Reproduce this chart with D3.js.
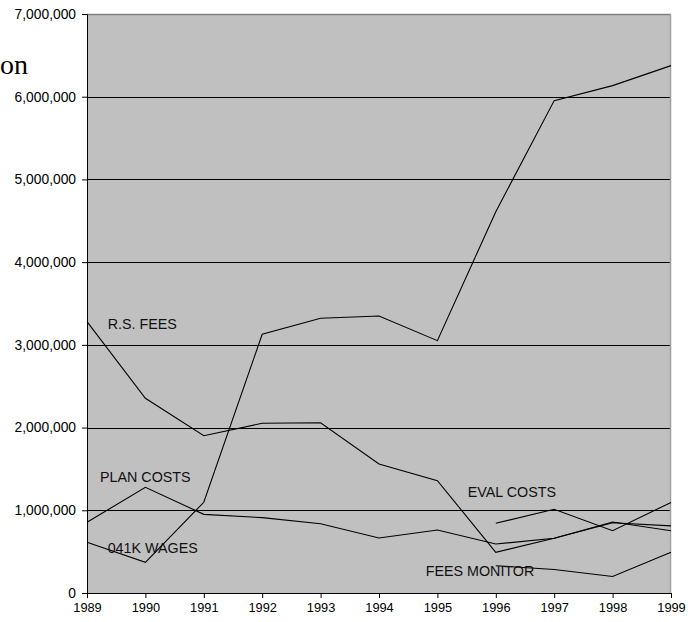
<!DOCTYPE html>
<html>
<head>
<meta charset="utf-8">
<script src="https://cdn.jsdelivr.net/npm/d3@7"></script>
<style>
  html, body { margin: 0; padding: 0; background: #ffffff; }
  svg { display: block; }
</style>
</head>
<body>
<svg id="chart" width="695" height="622"></svg>
<script>
// Years on the horizontal axis
const years = [1989, 1990, 1991, 1992, 1993, 1994, 1995, 1996, 1997, 1998, 1999];

// Annual amounts (dollars) for each cost line; null = no value that year
const totalSeries   = [613000, 371000, 1097000, 3128000, 3321000, 3349000, 3051000, 4610000, 5953000, 6134000, 6376000];
const rsFees        = [3280000, 2354000, 1902000, 2052000, 2059000, 1560000, 1358000, 492000, 661000, 850000, 812000];
const planCosts     = [855000, 1278000, 951000, 911000, 838000, 665000, 762000, 592000, 661000, 858000, 753000];
const evalCosts     = [null, null, null, null, null, null, null, 843000, 1012000, 753000, 1095000];
const feesMonitor   = [null, null, null, null, null, null, null, 330000, 284000, 200000, 492000];

// Value axis ticks
const yTicks = [0, 1000000, 2000000, 3000000, 4000000, 5000000, 6000000, 7000000];

// Text labels placed in the plot
const seriesLabels = ["R.S. FEES", "PLAN COSTS", "041K WAGES", "EVAL COSTS", "FEES MONITOR"];

const svg = d3.select("#chart");
const margin = { left: 87, top: 14, right: 24, bottom: 29 };
const W = 695, H = 622;
const pw = W - margin.left - margin.right;
const ph = H - margin.top - margin.bottom;

const x = d3.scaleLinear().domain([years[0], years[years.length - 1]]).range([0, pw]);
const y = d3.scaleLinear().domain([0, 7000000]).range([ph, 0]);

const g = svg.append("g").attr("transform", `translate(${margin.left},${margin.top})`);

// Plot background
g.append("rect").attr("x", 0).attr("y", 0).attr("width", pw).attr("height", ph)
  .attr("fill", "#c0c0c0");

// Horizontal gridlines
g.append("g").selectAll("line").data(yTicks.filter(v => v > 0 && v < 7000000)).join("line")
  .attr("x1", 0).attr("x2", pw)
  .attr("y1", d => Math.round(y(d)) + 0.5).attr("y2", d => Math.round(y(d)) + 0.5)
  .attr("stroke", "#000").attr("stroke-width", 1);

// Plot frame (top and right)
g.append("line").attr("x1", 0).attr("x2", pw).attr("y1", 0.5).attr("y2", 0.5)
  .attr("stroke", "#808080").attr("stroke-width", 1.5);
g.append("line").attr("x1", pw - 0.5).attr("x2", pw - 0.5).attr("y1", 0).attr("y2", ph)
  .attr("stroke", "#a0a0a0").attr("stroke-width", 1.5);

// Series lines
const line = d3.line()
  .defined(d => d[1] !== null)
  .x(d => x(d[0]))
  .y(d => y(d[1]));

const allSeries = [totalSeries, rsFees, planCosts, evalCosts, feesMonitor];
g.append("g").selectAll("path").data(allSeries).join("path")
  .attr("d", s => line(years.map((yr, i) => [yr, s[i]])))
  .attr("fill", "none")
  .attr("stroke", "#000")
  .attr("stroke-width", 1.1);

// Axes
const yAxis = d3.axisLeft(y).tickValues(yTicks).tickFormat(d3.format(",")).tickSize(5).tickPadding(6);
const xAxis = d3.axisBottom(x).tickValues(years).tickFormat(d3.format("d")).tickSize(5).tickPadding(5);

const ya = g.append("g").call(yAxis);
const xa = g.append("g").attr("transform", `translate(0,${ph})`).call(xAxis);

[ya, xa].forEach(a => {
  a.select(".domain").attr("stroke", "#000").attr("stroke-width", 1);
  a.selectAll(".tick line").attr("stroke", "#000");
  a.selectAll("text").attr("fill", "#000")
    .style("font-family", "'Liberation Sans', Arial, sans-serif");
});
ya.selectAll("text").style("font-size", "13.8px");
xa.selectAll("text").style("font-size", "12.8px");

// In-plot series labels
const labelPos = [
  { t: seriesLabels[0], yr: 1989.354, v: 3252000 },
  { t: seriesLabels[1], yr: 1989.223, v: 1406000 },
  { t: seriesLabels[2], yr: 1989.354, v: 544000 },
  { t: seriesLabels[3], yr: 1995.52, v: 1225000 },
  { t: seriesLabels[4], yr: 1994.80, v: 266000 }
];
g.append("g").selectAll("text").data(labelPos).join("text")
  .attr("x", d => x(d.yr))
  .attr("y", d => y(d.v))
  .attr("dy", "0.35em")
  .attr("fill", "#111")
  .style("font-family", "'Liberation Sans', Arial, sans-serif")
  .style("font-size", "14.3px")
  .text(d => d.t);

// Caption fragment at the left margin
svg.append("text")
  .attr("x", 0).attr("y", 74)
  .attr("fill", "#000")
  .style("font-family", "'Liberation Serif', 'Times New Roman', serif")
  .style("font-size", "28px")
  .text("on");
</script>
</body>
</html>
